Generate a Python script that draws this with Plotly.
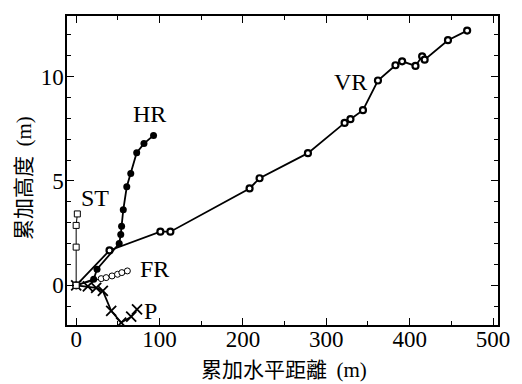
import plotly.graph_objects as go

# ST
st_x = [0, 0, 0, 1.4]
st_y = [0, 1.83, 2.87, 3.42]
# HR
hr_x = [0, 21, 25, 51.6, 53.5, 54.5, 56.5, 60.7, 65.5, 72.6, 81.3, 92.8]
hr_y = [0, 0.29, 0.77, 2.0, 2.44, 2.83, 3.62, 4.72, 5.36, 6.35, 6.79, 7.18]
# FR
fr_x = [0, 30, 36, 43, 49.6, 54.8, 61.4]
fr_y = [0, 0.32, 0.37, 0.45, 0.53, 0.61, 0.69]
# P
p_x = [0, 14, 24, 32, 42, 54, 66, 73]
p_y = [0, -0.05, -0.12, -0.27, -1.22, -1.79, -1.5, -1.15]
# VR
vr_x = [0, 40, 101, 113, 208, 220, 278, 322, 329, 344, 362, 383, 391, 407, 415, 418, 446, 469]
vr_y = [0, 1.67, 2.57, 2.57, 4.64, 5.13, 6.33, 7.78, 7.96, 8.39, 9.81, 10.54, 10.73, 10.51, 10.97, 10.81, 11.74, 12.2]

labels = ["ST", "HR", "VR", "FR", "P"]
label_x = [23, 88, 329, 94, 89]
label_y = [4.16, 8.2, 9.76, 0.77, -1.25]

xticks = [0, 100, 200, 300, 400, 500]
yticks = [0, 5, 10]

SERIF = "Liberation Serif"
CJK = "Noto Sans CJK TC"

fig = go.Figure()
lw = 1.8
fig.add_trace(go.Scatter(x=vr_x, y=vr_y, mode="lines+markers",
                         line=dict(color="black", width=lw),
                         marker=dict(symbol="circle", size=6, color="white",
                                     line=dict(color="black", width=2.2))))
fig.add_trace(go.Scatter(x=hr_x, y=hr_y, mode="lines+markers",
                         line=dict(color="black", width=lw),
                         marker=dict(symbol="circle", size=7, color="black")))
fig.add_trace(go.Scatter(x=fr_x, y=fr_y, mode="lines+markers",
                         line=dict(color="black", width=1),
                         marker=dict(symbol="circle", size=6, color="white",
                                     line=dict(color="black", width=1))))
fig.add_trace(go.Scatter(x=p_x, y=p_y, mode="lines+markers",
                         line=dict(color="black", width=lw),
                         marker=dict(symbol="x-thin", size=10,
                                     line=dict(color="black", width=1.8))))
fig.add_trace(go.Scatter(x=st_x, y=st_y, mode="lines+markers",
                         line=dict(color="black", width=1),
                         marker=dict(symbol="square", size=6, color="white",
                                     line=dict(color="black", width=1))))

for t, x, y in zip(labels, label_x, label_y):
    fig.add_annotation(x=x, y=y, text=t, showarrow=False,
                       font=dict(family=SERIF, size=24, color="black"))

# axis titles
fig.add_annotation(xref="paper", yref="paper", x=0.503, y=0, yanchor="middle",
                   yshift=-43, showarrow=False,
                   text="累加水平距離&nbsp;&nbsp;<span style='font-family:Liberation Serif'>(m)</span>",
                   font=dict(family=CJK, size=21, color="black"))
fig.add_annotation(xref="paper", yref="paper", x=0, xanchor="center", xshift=-45,
                   y=0.476, yanchor="middle", textangle=-90, showarrow=False,
                   text="累加高度&nbsp;&nbsp;<span style='font-family:Liberation Serif'>(m)</span>",
                   font=dict(family=CJK, size=21, color="black"))

axis_common = dict(showgrid=False, zeroline=False, showline=True, linecolor="black",
                   linewidth=1.5, mirror="ticks", ticks="inside", ticklen=7,
                   tickcolor="black", tickwidth=1.2,
                   tickfont=dict(family=SERIF, size=23, color="black"))

fig.update_xaxes(range=[-11, 506], tickvals=xticks, ticklabelstandoff=-7,
                 minor=dict(dtick=50, tick0=0, ticks="inside", ticklen=4, tickcolor="black"),
                 **axis_common)
fig.update_yaxes(range=[-1.9, 12.9], tickvals=yticks, ticklabelstandoff=-3,
                 minor=dict(dtick=1, tick0=0, ticks="inside", ticklen=4, tickcolor="black"),
                 **axis_common)

fig.update_layout(width=522, height=384, margin=dict(l=67, r=19, t=16, b=59),
                  paper_bgcolor="white", plot_bgcolor="white", showlegend=False)

fig.write_html("out.html")
